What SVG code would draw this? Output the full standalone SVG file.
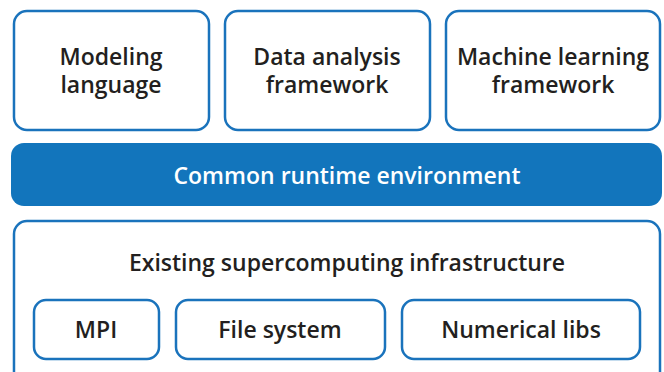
<svg xmlns="http://www.w3.org/2000/svg" width="664" height="372" viewBox="0 0 664 372">
  <style>
    .box { fill: #ffffff; stroke: #1a73bc; stroke-width: 2.5; }
    .bar { fill: #1275bc; }
    .lbl { font-family: "Open Sans", "Noto Sans", sans-serif; font-size: 23px; font-weight: 600; fill: #231f20; text-anchor: middle; }
    .wlbl { font-family: "Open Sans", "Noto Sans", sans-serif; font-size: 23px; font-weight: 600; fill: #ffffff; text-anchor: middle; }
  </style>
  <rect width="664" height="372" fill="#ffffff"/>

  <!-- top layer: tools -->
  <g id="modeling-language">
    <rect class="box" x="14" y="11" width="195" height="119" rx="13"/>
    <text class="lbl" x="111" y="65">Modeling<tspan x="111" dy="28">language</tspan></text>
  </g>
  <g id="data-analysis-framework">
    <rect class="box" x="225" y="11" width="205" height="119" rx="13"/>
    <text class="lbl" x="327" y="65">Data analysis<tspan x="327" dy="28">framework</tspan></text>
  </g>
  <g id="machine-learning-framework">
    <rect class="box" x="446" y="11" width="214" height="119" rx="13"/>
    <text class="lbl" x="553" y="65">Machine learning<tspan x="553" dy="28">framework</tspan></text>
  </g>

  <!-- middle layer: runtime -->
  <g id="common-runtime">
    <rect class="bar" x="11" y="143" width="651" height="63" rx="13"/>
    <text class="wlbl" x="347" y="184">Common runtime environment</text>
  </g>

  <!-- bottom layer: infrastructure -->
  <g id="infrastructure">
    <rect class="box" x="14" y="221" width="646" height="170" rx="13"/>
    <text class="lbl" x="347" y="271">Existing supercomputing infrastructure</text>
  </g>
  <g id="mpi">
    <rect class="box" x="34" y="300" width="125" height="59" rx="12"/>
    <text class="lbl" x="96" y="338">MPI</text>
  </g>
  <g id="file-system">
    <rect class="box" x="176" y="300" width="209" height="59" rx="12"/>
    <text class="lbl" x="280" y="338">File system</text>
  </g>
  <g id="numerical-libs">
    <rect class="box" x="402" y="300" width="238" height="59" rx="12"/>
    <text class="lbl" x="521" y="338">Numerical libs</text>
  </g>

  <g id="connectors"/>
</svg>
